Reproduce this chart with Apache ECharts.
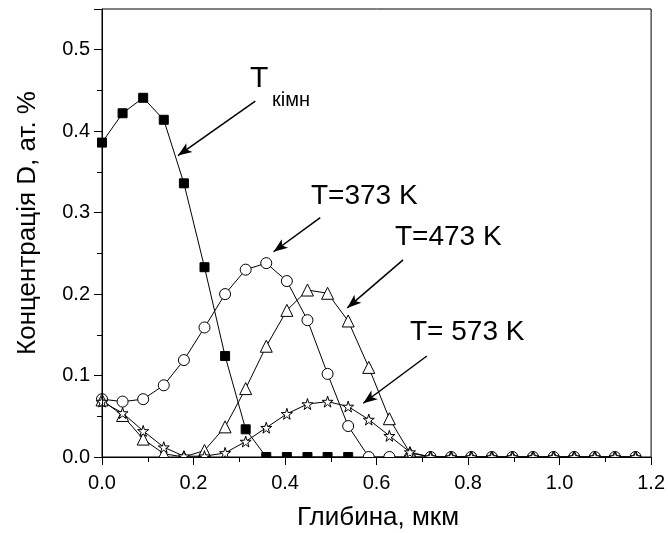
<!DOCTYPE html>
<html>
<head>
<meta charset="utf-8">
<script src="https://cdn.jsdelivr.net/npm/echarts@6/dist/echarts.min.js"></script>
<style>
  html, body { margin: 0; padding: 0; background: #fff; }
  #chart { width: 668px; height: 533px; }
</style>
</head>
<body>
<div id="chart"></div>
<script>
// depth, um
const depth = [0, 0.045, 0.09, 0.135, 0.179, 0.224, 0.269, 0.314, 0.359, 0.404, 0.449, 0.493, 0.538,
  0.583, 0.628, 0.673, 0.718, 0.763, 0.807, 0.852, 0.897, 0.942, 0.987, 1.032, 1.077, 1.121, 1.166]

// concentration D, at. %
const tRoom = [0.386, 0.422, 0.441, 0.414, 0.336, 0.233, 0.124, 0.034, 0.0, 0.0, 0.0, 0.0, 0.0]
const t373 = [0.071, 0.068, 0.071, 0.088, 0.119, 0.159, 0.200, 0.230, 0.238, 0.216, 0.168, 0.102, 0.038,
  0.0, 0.0, 0.0, 0.0, 0.0, 0.0, 0.0, 0.0, 0.0, 0.0, 0.0, 0.0, 0.0, 0.0]
const t473 = [0.070, 0.051, 0.022, 0.004, 0.0, 0.008, 0.037, 0.084, 0.136, 0.180, 0.205, 0.201, 0.167,
  0.110, 0.047, 0.005, 0.0, 0.0, 0.0, 0.0, 0.0, 0.0, 0.0, 0.0, 0.0, 0.0, 0.0]
const t573 = [0.068, 0.054, 0.032, 0.012, 0.001, 0.001, 0.005, 0.019, 0.036, 0.053, 0.065, 0.068, 0.062,
  0.046, 0.026, 0.006, 0.0, 0.0, 0.0, 0.0, 0.0, 0.0, 0.0, 0.0, 0.0, 0.0, 0.0]

const xTicks = ['0.0', '0.2', '0.4', '0.6', '0.8', '1.0', '1.2']
const yTicks = ['0.0', '0.1', '0.2', '0.3', '0.4', '0.5']

// arrows: [from, to] in data coords
const arrows = [
  [[0.335, 0.437], [0.166, 0.370]],
  [[0.477, 0.294], [0.375, 0.252]],
  [[0.658, 0.242], [0.536, 0.183]],
  [[0.710, 0.124], [0.571, 0.066]]
]

const FONT = '"Liberation Sans", Arial, sans-serif'
const GRID = {left: 102, right: 15, top: 9, bottom: 76}
const STAR = 'path://M50,0 L61,35 L98,35 L68,57 L79,91 L50,70 L21,91 L32,57 L2,35 L39,35 Z'

function pairs(values) {
  return values.map((v, i) => [depth[i], v])
}

function lineSeries(name, values, symbol, size, fill) {
  return {
    name,
    type: 'line',
    data: pairs(values),
    symbol,
    symbolSize: size,
    showAllSymbol: true,
    clip: false,
    z: 2,
    lineStyle: {color: '#000', width: 1},
    itemStyle: {color: fill, borderColor: '#000', borderWidth: 1},
    emphasis: {disabled: true}
  }
}

const chart = echarts.init(document.getElementById('chart'))

const seriesRoom = lineSeries('Tкімн', tRoom, 'rect', 9, '#000')
seriesRoom.markLine = {
  silent: true,
  animation: false,
  symbol: ['none', 'arrow'],
  symbolSize: [8, 14],
  lineStyle: {color: '#000', width: 1.5, type: 'solid'},
  label: {show: false},
  data: arrows.map(a => [{coord: a[0]}, {coord: a[1]}])
}

const option = {
  animation: false,
  grid: {
    left: GRID.left, right: GRID.right, top: GRID.top, bottom: GRID.bottom,
    show: true, borderColor: '#000', borderWidth: 1, backgroundColor: 'transparent'
  },
  xAxis: {
    type: 'value',
    min: 0, max: 1.2, interval: 0.2,
    z: 5,
    axisLine: {show: true, onZero: false, lineStyle: {color: '#000', width: 1}},
    axisTick: {show: true, inside: false, length: 8, lineStyle: {color: '#000'}},
    minorTick: {show: true, splitNumber: 2, length: 5, lineStyle: {color: '#000'}},
    splitLine: {show: false},
    axisLabel: {
      margin: 16, color: '#000', fontSize: 20, fontFamily: FONT,
      formatter: v => xTicks[Math.round(v / 0.2)] ?? ''
    }
  },
  yAxis: {
    type: 'value',
    min: 0, max: 0.55, interval: 0.1,
    z: 5,
    axisLine: {show: true, onZero: false, lineStyle: {color: '#000', width: 1}},
    axisTick: {show: true, inside: false, length: 8, lineStyle: {color: '#000'}},
    minorTick: {show: true, splitNumber: 2, length: 5, lineStyle: {color: '#000'}},
    splitLine: {show: false},
    axisLabel: {
      margin: 12, color: '#000', fontSize: 20, fontFamily: FONT,
      formatter: v => yTicks[Math.round(v / 0.1)] ?? ''
    }
  },
  series: [
    seriesRoom,
    lineSeries('T=373 K', t373, 'circle', 11, '#fff'),
    lineSeries('T=473 K', t473, 'triangle', 12, '#fff'),
    lineSeries('T= 573 K', t573, STAR, 11, '#fff')
  ],
  graphic: [
    // hides the lower half of markers sitting on the x axis
    {type: 'rect', z: 3, silent: true,
      shape: {x: GRID.left + 1, y: 533 - GRID.bottom + 1, width: 668 - GRID.left - GRID.right, height: 12},
      style: {fill: '#fff'}},
    {type: 'text', left: 250, top: 64, z: 6,
      style: {text: 'T', font: '30px ' + FONT, fill: '#000'}},
    {type: 'text', left: 272, top: 90, z: 6,
      style: {text: 'кімн', font: '20px ' + FONT, fill: '#000'}},
    {type: 'text', left: 311, top: 182, z: 6,
      style: {text: 'T=373 K', font: '28px ' + FONT, fill: '#000'}},
    {type: 'text', left: 395, top: 223, z: 6,
      style: {text: 'T=473 K', font: '28px ' + FONT, fill: '#000'}},
    {type: 'text', left: 410, top: 318, z: 6,
      style: {text: 'T= 573 K', font: '28px ' + FONT, fill: '#000'}},
    {type: 'text', x: 378, y: 518, z: 6,
      style: {text: 'Глибина, мкм', font: '26px ' + FONT, fill: '#000', align: 'center', verticalAlign: 'middle'}},
    {type: 'text', x: 28, y: 223, rotation: Math.PI / 2, z: 6,
      style: {text: 'Концентрація D, ат. %', font: '26px ' + FONT, fill: '#000', align: 'center', verticalAlign: 'middle'}}
  ]
}

chart.setOption(option)
</script>
</body>
</html>
